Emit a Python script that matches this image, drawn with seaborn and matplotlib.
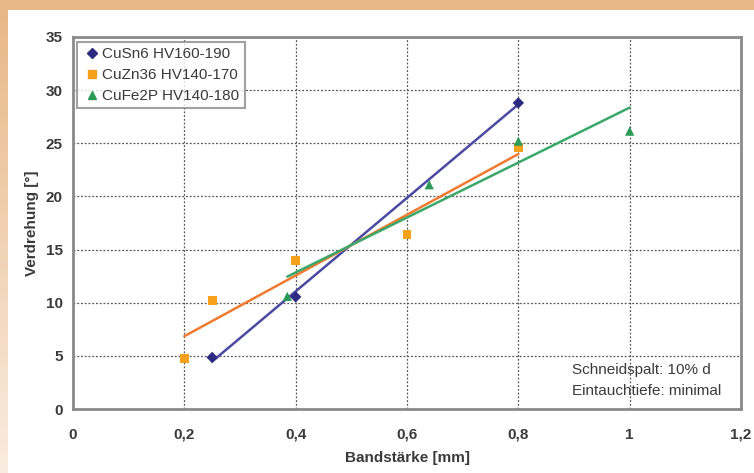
import numpy as np
import pandas as pd
import seaborn as sns
import matplotlib
matplotlib.use("Agg")
from matplotlib import pyplot as plt
from matplotlib.lines import Line2D
from matplotlib.colors import LinearSegmentedColormap

# data
cusn6_x = [0.25, 0.4, 0.8]
cusn6_y = [4.85, 10.55, 28.8]

cuzn36_x = [0.2, 0.25, 0.4, 0.6, 0.8]
cuzn36_y = [4.75, 10.2, 14.0, 16.4, 24.6]

cufe2p_x = [0.385, 0.64, 0.8, 1.0]
cufe2p_y = [10.6, 21.1, 25.2, 26.15]

series_names = ["CuSn6 HV160-190", "CuZn36 HV140-170", "CuFe2P HV140-180"]
x_ticks = [0, 0.2, 0.4, 0.6, 0.8, 1.0, 1.2]
x_ticklabels = ["0", "0,2", "0,4", "0,6", "0,8", "1", "1,2"]
y_ticks = [0, 5, 10, 15, 20, 25, 30, 35]

sns.set_style("white")
plt.rcParams["font.family"] = ["Liberation Sans", "DejaVu Sans"]

txt = "#3a3a3a"
grey = "#8a8a8a"

fig = plt.figure(figsize=(7.54, 4.73), dpi=100)
fig.patch.set_facecolor("white")

# orange frame: top band + fading left band
top = fig.add_axes([0, 1 - 10 / 473, 1, 10 / 473])
top.set_facecolor("#e8b887")
top.set_xticks([]); top.set_yticks([])
for s in top.spines.values():
    s.set_visible(False)
left = fig.add_axes([0, 0, 8 / 754, 1 - 10 / 473])
grad = np.linspace(0, 1, 200).reshape(-1, 1)
cm = LinearSegmentedColormap.from_list("fade", ["#e8b887", "#f9ece0"])
left.imshow(grad, aspect="auto", cmap=cm, extent=[0, 1, 0, 1])
left.set_xticks([]); left.set_yticks([])
for s in left.spines.values():
    s.set_visible(False)

ax = fig.add_axes([73 / 754, 64 / 473, 668 / 754, 372 / 473])

specs = [
    (cusn6_x, cusn6_y, "#2b2b80", "#4a4aa2", "D", 34, 5),
    (cuzn36_x, cuzn36_y, "#f5a11c", "#f07a30", "s", 40, 6),
    (cufe2p_x, cufe2p_y, "#2d9b58", "#3aa86a", "^", 45, 6),
]

handles = []
for (xs, ys, mc, lc, mk, ms, lms), name in zip(specs, series_names):
    df = pd.DataFrame({"x": xs, "y": ys})
    sns.regplot(data=df, x="x", y="y", ax=ax, ci=None, truncate=True,
                scatter=False, line_kws=dict(color=lc, lw=1.8, zorder=3))
    sns.scatterplot(data=df, x="x", y="y", ax=ax, marker=mk, s=ms,
                    color=mc, edgecolor="none", zorder=4)
    handles.append(Line2D([], [], ls="none", marker=mk, color=mc,
                          markersize=lms, label=name))

ax.set_xlim(0, 1.2)
ax.set_ylim(0, 35)
ax.set_xticks(x_ticks)
ax.set_xticklabels(x_ticklabels)
ax.set_yticks(y_ticks)
ax.grid(True, ls=(0, (1.5, 1.5)), color="#555555", lw=0.9)
ax.set_axisbelow(True)

for s in ax.spines.values():
    s.set_color(grey)
    s.set_linewidth(2)
ax.tick_params(direction="inout", length=7, width=1.3, color=grey,
               labelsize=11, labelcolor=txt)
ax.tick_params(axis="x", pad=10)
ax.tick_params(axis="y", pad=4)
for lab in ax.get_xticklabels() + ax.get_yticklabels():
    lab.set_fontweight("bold")

ax.set_xlabel("Bandstärke [mm]", fontsize=11, fontweight="bold", color=txt, labelpad=7)
ax.set_ylabel("Verdrehung [°]", fontsize=11, fontweight="bold", color=txt, labelpad=5)

leg = ax.legend(handles=handles, loc="upper left", bbox_to_anchor=(0.006, 0.987),
                fontsize=11, frameon=True, fancybox=False, handletextpad=0.1,
                handlelength=1.2, borderpad=0.35, labelspacing=0.45,
                borderaxespad=0)
leg.get_frame().set_edgecolor(grey)
leg.get_frame().set_linewidth(1.5)
for t in leg.get_texts():
    t.set_color(txt)

ax.text(0.747, 0.105, "Schneidspalt: 10% d", transform=ax.transAxes,
        fontsize=11, color=txt, va="center", ha="left")
ax.text(0.747, 0.048, "Eintauchtiefe: minimal", transform=ax.transAxes,
        fontsize=11, color=txt, va="center", ha="left")

fig.savefig("out.png", dpi=100)
